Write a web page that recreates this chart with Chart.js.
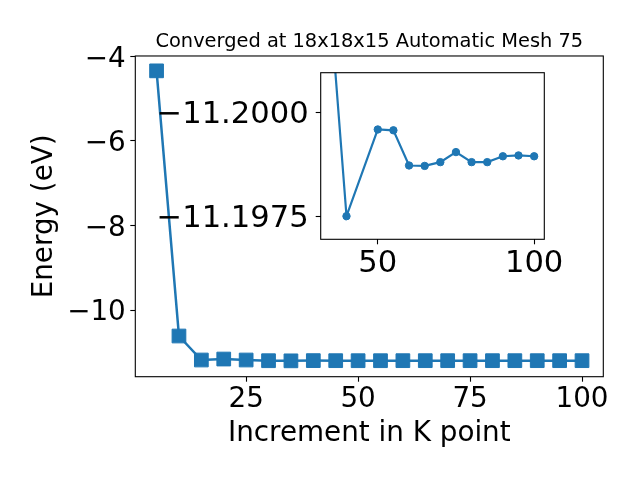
<!DOCTYPE html>
<html>
<head>
<meta charset="utf-8">
<script src="https://cdn.jsdelivr.net/npm/chart.js@4/dist/chart.umd.min.js"></script>
<style>
  html, body { margin: 0; padding: 0; background: #ffffff; }
  #wrap { position: relative; width: 640px; height: 480px; background: #ffffff; }
  canvas { position: absolute; }
</style>
</head>
<body>
<div id="wrap">
  <canvas id="main" width="640" height="480" style="left:0;top:0;width:640px;height:480px"></canvas>
  <canvas id="inset" width="420" height="230" style="left:150px;top:60px;width:420px;height:230px"></canvas>
</div>
<script>
// ---- data ----
const kPoints = [5, 10, 15, 20, 25, 30, 35, 40, 45, 50, 55, 60, 65, 70, 75, 80, 85, 90, 95, 100];
const energy = [-4.34, -10.615, -11.183, -11.16, -11.183, -11.2, -11.2024, -11.1975, -11.199, -11.1996,
                -11.1996, -11.1987, -11.1987, -11.1988, -11.1990, -11.1988, -11.1988, -11.1989, -11.1990, -11.1989];
const insetK = [35, 40, 50, 55, 60, 65, 70, 75, 80, 85, 90, 95, 100];
const insetEnergy = [-11.20235, -11.19752, -11.19959, -11.19957, -11.19873, -11.19872, -11.19881,
                     -11.19905, -11.19881, -11.19881, -11.19895, -11.19897, -11.19895];
const mainXTicks = [25, 50, 75, 100];
const mainYTicks = [-10, -8, -6, -4];
const insetXTicks = [50, 100];
const insetYTicks = [-11.2, -11.1975];
const titleText = 'Converged at 18x18x15 Automatic Mesh 75';
const xLabel = 'Increment in K point';
const yLabel = 'Energy (eV)';

// ---- style ----
const BLUE = '#1f77b4';
const FAMILY = "'DejaVu Sans', sans-serif";
const MAIN_FS = 27.8;
const INSET_FS = 30.6;
const minus = v => (v < 0 ? '\u2212' : '') + Math.abs(v);

const framePlugin = {
  id: 'frame',
  beforeDraw(chart, args, opts) {
    if (opts && opts.fill) {
      const a = chart.chartArea, ctx = chart.ctx;
      ctx.save();
      ctx.fillStyle = '#ffffff';
      ctx.fillRect(a.left, a.top, a.right - a.left, a.bottom - a.top);
      ctx.restore();
    }
  },
  afterDatasetsDraw(chart) {
    const a = chart.chartArea, ctx = chart.ctx;
    ctx.save();
    ctx.strokeStyle = '#000000';
    ctx.lineWidth = 1.1;
    ctx.strokeRect(a.left, a.top, a.right - a.left, a.bottom - a.top);
    ctx.restore();
  }
};

const setTicks = arr => scale => { scale.ticks = arr.map(v => ({ value: v })); };

new Chart(document.getElementById('main'), {
  type: 'line',
  data: {
    datasets: [{
      data: kPoints.map((k, i) => ({ x: k, y: energy[i] })),
      borderColor: BLUE,
      backgroundColor: BLUE,
      borderWidth: 2.5,
      pointStyle: 'rect',
      pointRadius: 9.7,
      pointBorderWidth: 1,
      pointBorderColor: BLUE,
      pointBackgroundColor: BLUE,
      tension: 0
    }]
  },
  options: {
    responsive: false,
    animation: false,
    events: [],
    layout: { padding: { left: 0, top: 0, right: 36.7, bottom: 0 } },
    plugins: {
      legend: { display: false },
      tooltip: { enabled: false },
      frame: { fill: false },
      title: {
        display: true,
        text: titleText,
        fullSize: false,
        color: '#000000',
        font: { family: FAMILY, size: 19.4, weight: 'normal', lineHeight: 1.2 },
        padding: { top: 30.6, bottom: 2.1 }
      }
    },
    scales: {
      x: {
        type: 'linear',
        min: 0.25,
        max: 104.75,
        afterBuildTicks: setTicks(mainXTicks),
        afterFit: s => { s.height = 103.3; s.paddingLeft = 0; s.paddingRight = 0; },
        border: { display: false },
        grid: { drawOnChartArea: false, drawTicks: true, tickLength: 5, tickColor: '#000000', tickWidth: 1.1 },
        ticks: { color: '#000000', font: { family: FAMILY, size: MAIN_FS }, padding: 1, maxRotation: 0, autoSkip: false, callback: v => minus(v) },
        title: { display: true, text: xLabel, color: '#000000', font: { family: FAMILY, size: MAIN_FS }, padding: { top: 0, bottom: 30 } }
      },
      y: {
        type: 'linear',
        min: -11.578,
        max: -3.988,
        afterBuildTicks: setTicks(mainYTicks),
        afterFit: s => { s.width = 135.3; s.paddingTop = 0; s.paddingBottom = 0; },
        border: { display: false },
        grid: { drawOnChartArea: false, drawTicks: true, tickLength: 5, tickColor: '#000000', tickWidth: 1.1 },
        ticks: { color: '#000000', font: { family: FAMILY, size: MAIN_FS }, padding: 4.5, labelOffset: 3, autoSkip: false, callback: v => minus(v) },
        title: { display: true, text: yLabel, color: '#000000', font: { family: FAMILY, size: MAIN_FS }, padding: { top: 28.1, bottom: 0 } }
      }
    }
  },
  plugins: [framePlugin]
});

new Chart(document.getElementById('inset'), {
  type: 'line',
  data: {
    datasets: [{
      data: insetK.map((k, i) => ({ x: k, y: insetEnergy[i] })),
      borderColor: BLUE,
      backgroundColor: BLUE,
      borderWidth: 2.2,
      pointStyle: 'circle',
      pointRadius: 3.7,
      pointBorderWidth: 1,
      pointBorderColor: BLUE,
      pointBackgroundColor: BLUE,
      tension: 0
    }]
  },
  options: {
    responsive: false,
    animation: false,
    events: [],
    layout: { padding: { left: 0, top: 12.7, right: 25.7, bottom: 0 } },
    plugins: {
      legend: { display: false },
      tooltip: { enabled: false },
      title: { display: false },
      frame: { fill: true }
    },
    scales: {
      x: {
        type: 'linear',
        min: 31.75,
        max: 103.25,
        afterBuildTicks: setTicks(insetXTicks),
        afterFit: s => { s.height = 50.7; s.paddingLeft = 0; s.paddingRight = 0; },
        border: { display: false },
        grid: { drawOnChartArea: false, drawTicks: true, tickLength: 5, tickColor: '#000000', tickWidth: 1.1 },
        ticks: { color: '#000000', font: { family: FAMILY, size: INSET_FS }, padding: 1, maxRotation: 0, autoSkip: false, callback: v => minus(v) }
      },
      y: {
        type: 'linear',
        reverse: true,
        min: -11.200946,
        max: -11.196967,
        afterBuildTicks: setTicks(insetYTicks),
        afterFit: s => { s.width = 170.7; s.paddingTop = 0; s.paddingBottom = 0; },
        border: { display: false },
        grid: { drawOnChartArea: false, drawTicks: true, tickLength: 5, tickColor: '#000000', tickWidth: 1.1 },
        ticks: { color: '#000000', font: { family: FAMILY, size: INSET_FS }, padding: 7, labelOffset: 2.5, autoSkip: false,
                 callback: v => (v < 0 ? '\u2212' : '') + Math.abs(v).toFixed(4) }
      }
    }
  },
  plugins: [framePlugin]
});
</script>
</body>
</html>
